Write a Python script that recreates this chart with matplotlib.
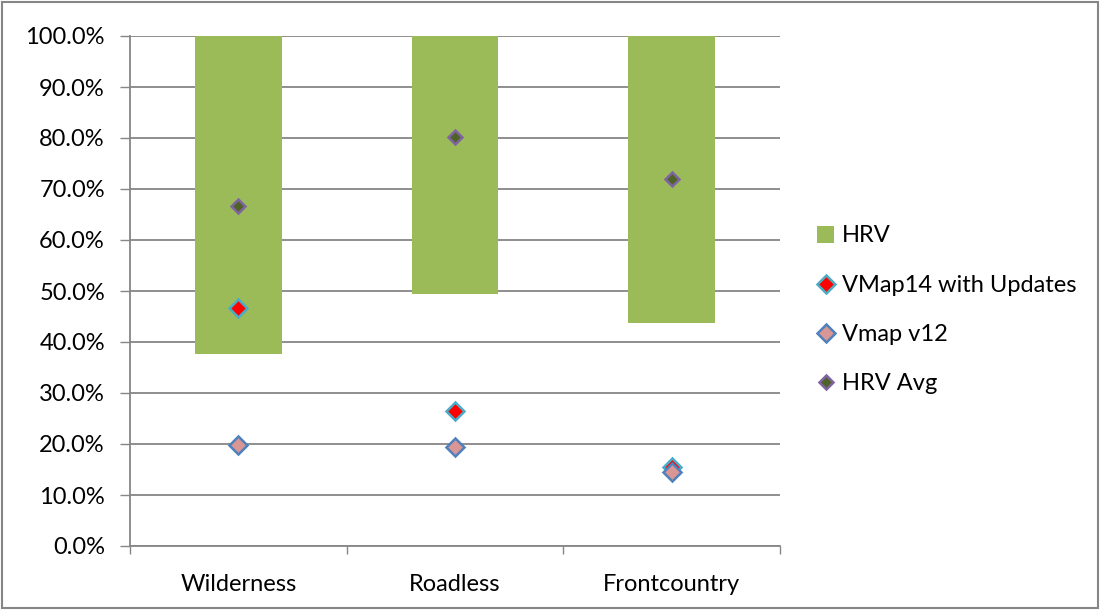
import matplotlib.pyplot as plt
import numpy as np

# categories and the summary values per area type
areas = ["Wilderness", "Roadless", "Frontcountry"]
hrv_min = [0.377, 0.494, 0.438]
hrv_max = [1.0, 1.0, 1.0]
hrv_avg = [0.666, 0.802, 0.720]
vmap14 = [0.467, 0.265, 0.155]
vmap12 = [0.198, 0.194, 0.145]

plt.rcParams['font.family'] = ['Lato', 'DejaVu Sans']

fig = plt.figure(figsize=(11.01, 6.10), dpi=100)
ax = fig.add_axes([130/1101, 1-546/610, 650/1101, 510/610])

x = np.arange(len(areas))
heights = [hi - lo for lo, hi in zip(hrv_min, hrv_max)]
b = ax.bar(x, heights, bottom=hrv_min, width=0.4, color="#9BBB59", label="HRV", zorder=2)

l1, = ax.plot(x, vmap14, linestyle="none", marker="D", markersize=9, markerfacecolor="#FF0000",
              markeredgecolor="#4BACC6", markeredgewidth=1.8, label="VMap14 with Updates", zorder=3)
l2, = ax.plot(x, vmap12, linestyle="none", marker="D", markersize=9, markerfacecolor="#D99694",
              markeredgecolor="#4F81BD", markeredgewidth=1.8, label="Vmap v12", zorder=4)
l3, = ax.plot(x, hrv_avg, linestyle="none", marker="D", markersize=7, markerfacecolor="#4F6228",
              markeredgecolor="#8064A2", markeredgewidth=1.8, label="HRV Avg", zorder=3)

ax.set_xlim(-0.5, 2.5)
ax.set_ylim(0, 1.0)
ax.set_yticks(np.arange(0, 1.01, 0.1))
ax.set_yticklabels(["{:.1f}%".format(v*100) for v in np.arange(0, 1.01, 0.1)])
ax.set_xticks(x)
ax.set_xticklabels(areas)
ax.set_xticks([-0.5, 0.5, 1.5, 2.5], minor=True)
ax.tick_params(axis="x", which="major", length=0, pad=20, labelsize=17)
ax.tick_params(axis="x", which="minor", length=6, color="#868686", width=1)
ax.tick_params(axis="y", length=7, color="#868686", width=1, labelsize=17, pad=11)

ax.yaxis.grid(True, color="#868686", linewidth=1.3, zorder=0)
ax.set_axisbelow(True)
for s in ["top", "right"]:
    ax.spines[s].set_visible(False)
for s in ["left", "bottom"]:
    ax.spines[s].set_color("#868686")
    ax.spines[s].set_linewidth(1.3)

leg = ax.legend([b, l1, l2, l3], ["HRV", "VMap14 with Updates", "Vmap v12", "HRV Avg"],
                loc="center left", bbox_to_anchor=(808/1101, 1-310/610),
                bbox_transform=fig.transFigure, frameon=False, fontsize=17,
                labelspacing=1.2, handlelength=0.7, handletextpad=0.35, borderaxespad=0)

# chart frame
fig.patches.append(plt.Rectangle((0.002, 0.003), 0.995, 0.994, transform=fig.transFigure,
                                 fill=False, edgecolor="#868686", linewidth=1.5))

fig.savefig("out.png", dpi=100)
